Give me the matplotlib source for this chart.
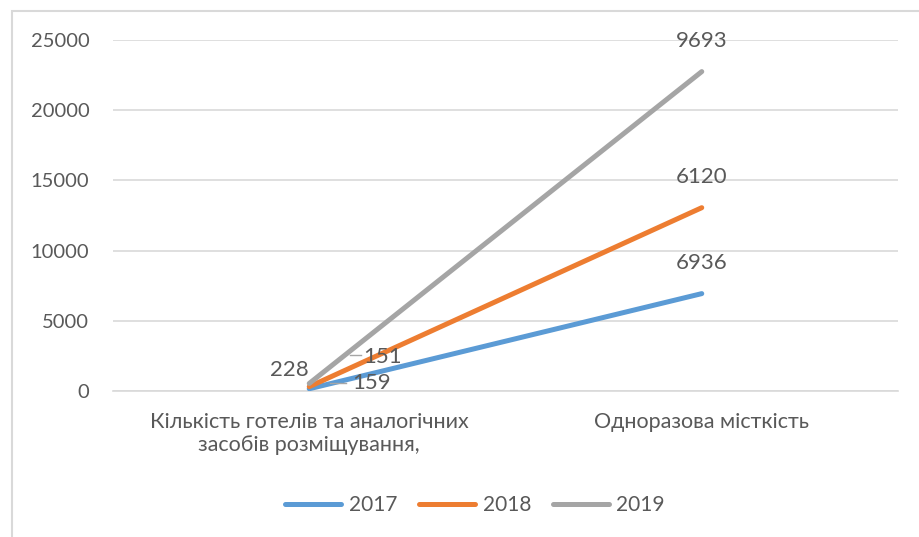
import numpy as np
import matplotlib
matplotlib.use("Agg")
import matplotlib.pyplot as plt
from matplotlib.lines import Line2D
from matplotlib.patches import Rectangle

plt.rcParams['font.family'] = ['Lato', 'DejaVu Sans']

categories = ["Кількість готелів та аналогічних\nзасобів розміщування,", "Одноразова місткість"]
years = ["2017", "2018", "2019"]
v2017 = [159, 6936]
v2018 = [151, 6120]
v2019 = [228, 9693]
colors = ["#5B9BD5", "#ED7D31", "#A5A5A5"]
txt = "#595959"
grid = "#D9D9D9"


def main():
	fig = plt.figure(figsize=(9.19, 5.37), dpi=100)
	ax = fig.add_axes([113/919, 1-391/537, 785/919, 351/537])

	series = np.array([v2017, v2018, v2019])
	stacked = np.cumsum(series, axis=0)
	x = np.arange(len(categories))

	for k in range(len(years)):
		ax.plot(x, stacked[k], color=colors[k], lw=3.6, solid_capstyle='round', label=years[k], zorder=3)

	ax.set_xlim(-0.5, 1.5)
	ax.set_ylim(0, 25000)
	ax.set_yticks(np.arange(0, 25001, 5000))
	ax.grid(axis='y', color=grid, lw=1.2)
	ax.set_axisbelow(True)
	for s in ['top', 'right', 'left']:
		ax.spines[s].set_visible(False)
	ax.spines['bottom'].set_color(grid)
	ax.spines['bottom'].set_linewidth(1.2)
	ax.tick_params(axis='both', length=0, colors=txt)
	ax.tick_params(axis='y', labelsize=14.5, pad=17)
	ax.set_xticks(x)
	ax.set_xticklabels(categories, fontsize=15.5, color=txt, linespacing=1.2)
	ax.tick_params(axis='x', pad=15)

	# labels at second category, above points
	for k in range(len(years)):
		ax.annotate(str(series[k, 1]), (x[1], stacked[k, 1]), xytext=(0, 22), textcoords='offset points',
			ha='center', va='center', fontsize=16, color=txt)

	# labels at first category
	ax.annotate(str(series[2, 0]), (x[0], stacked[2, 0]), xytext=(-14.5, 9.5), textcoords='offset points',
		ha='center', va='center', fontsize=16, color=txt)
	ax.annotate(str(series[1, 0]), (x[0], stacked[1, 0]), xytext=(53, 21), textcoords='offset points',
		ha='center', va='center', fontsize=16, color=txt)
	ax.annotate(str(series[0, 0]), (x[0], stacked[0, 0]), xytext=(44.5, 4.5), textcoords='offset points',
		ha='center', va='center', fontsize=16, color=txt)
	# leader lines
	fig.add_artist(Line2D([350/919, 361/919], [1-355/537, 1-355/537], color="#A6A6A6", lw=1))
	fig.add_artist(Line2D([330/919, 346/919], [1-383/537, 1-383/537], color="#A6A6A6", lw=1))

	leg = fig.legend(loc='center', bbox_to_anchor=(475/919, 1-505/537), ncol=3, frameon=False,
		fontsize=15, handlelength=2.7, columnspacing=1.05, handletextpad=0.35)
	for t in leg.get_texts():
		t.set_color(txt)

	fig.add_artist(Rectangle((12/919, -0.1), 1.2, 1.1-11/537, fill=False, edgecolor=grid,
		lw=1.5, transform=fig.transFigure))

	plt.savefig("out.png", dpi=100)


if __name__ == "__main__":
	main()
